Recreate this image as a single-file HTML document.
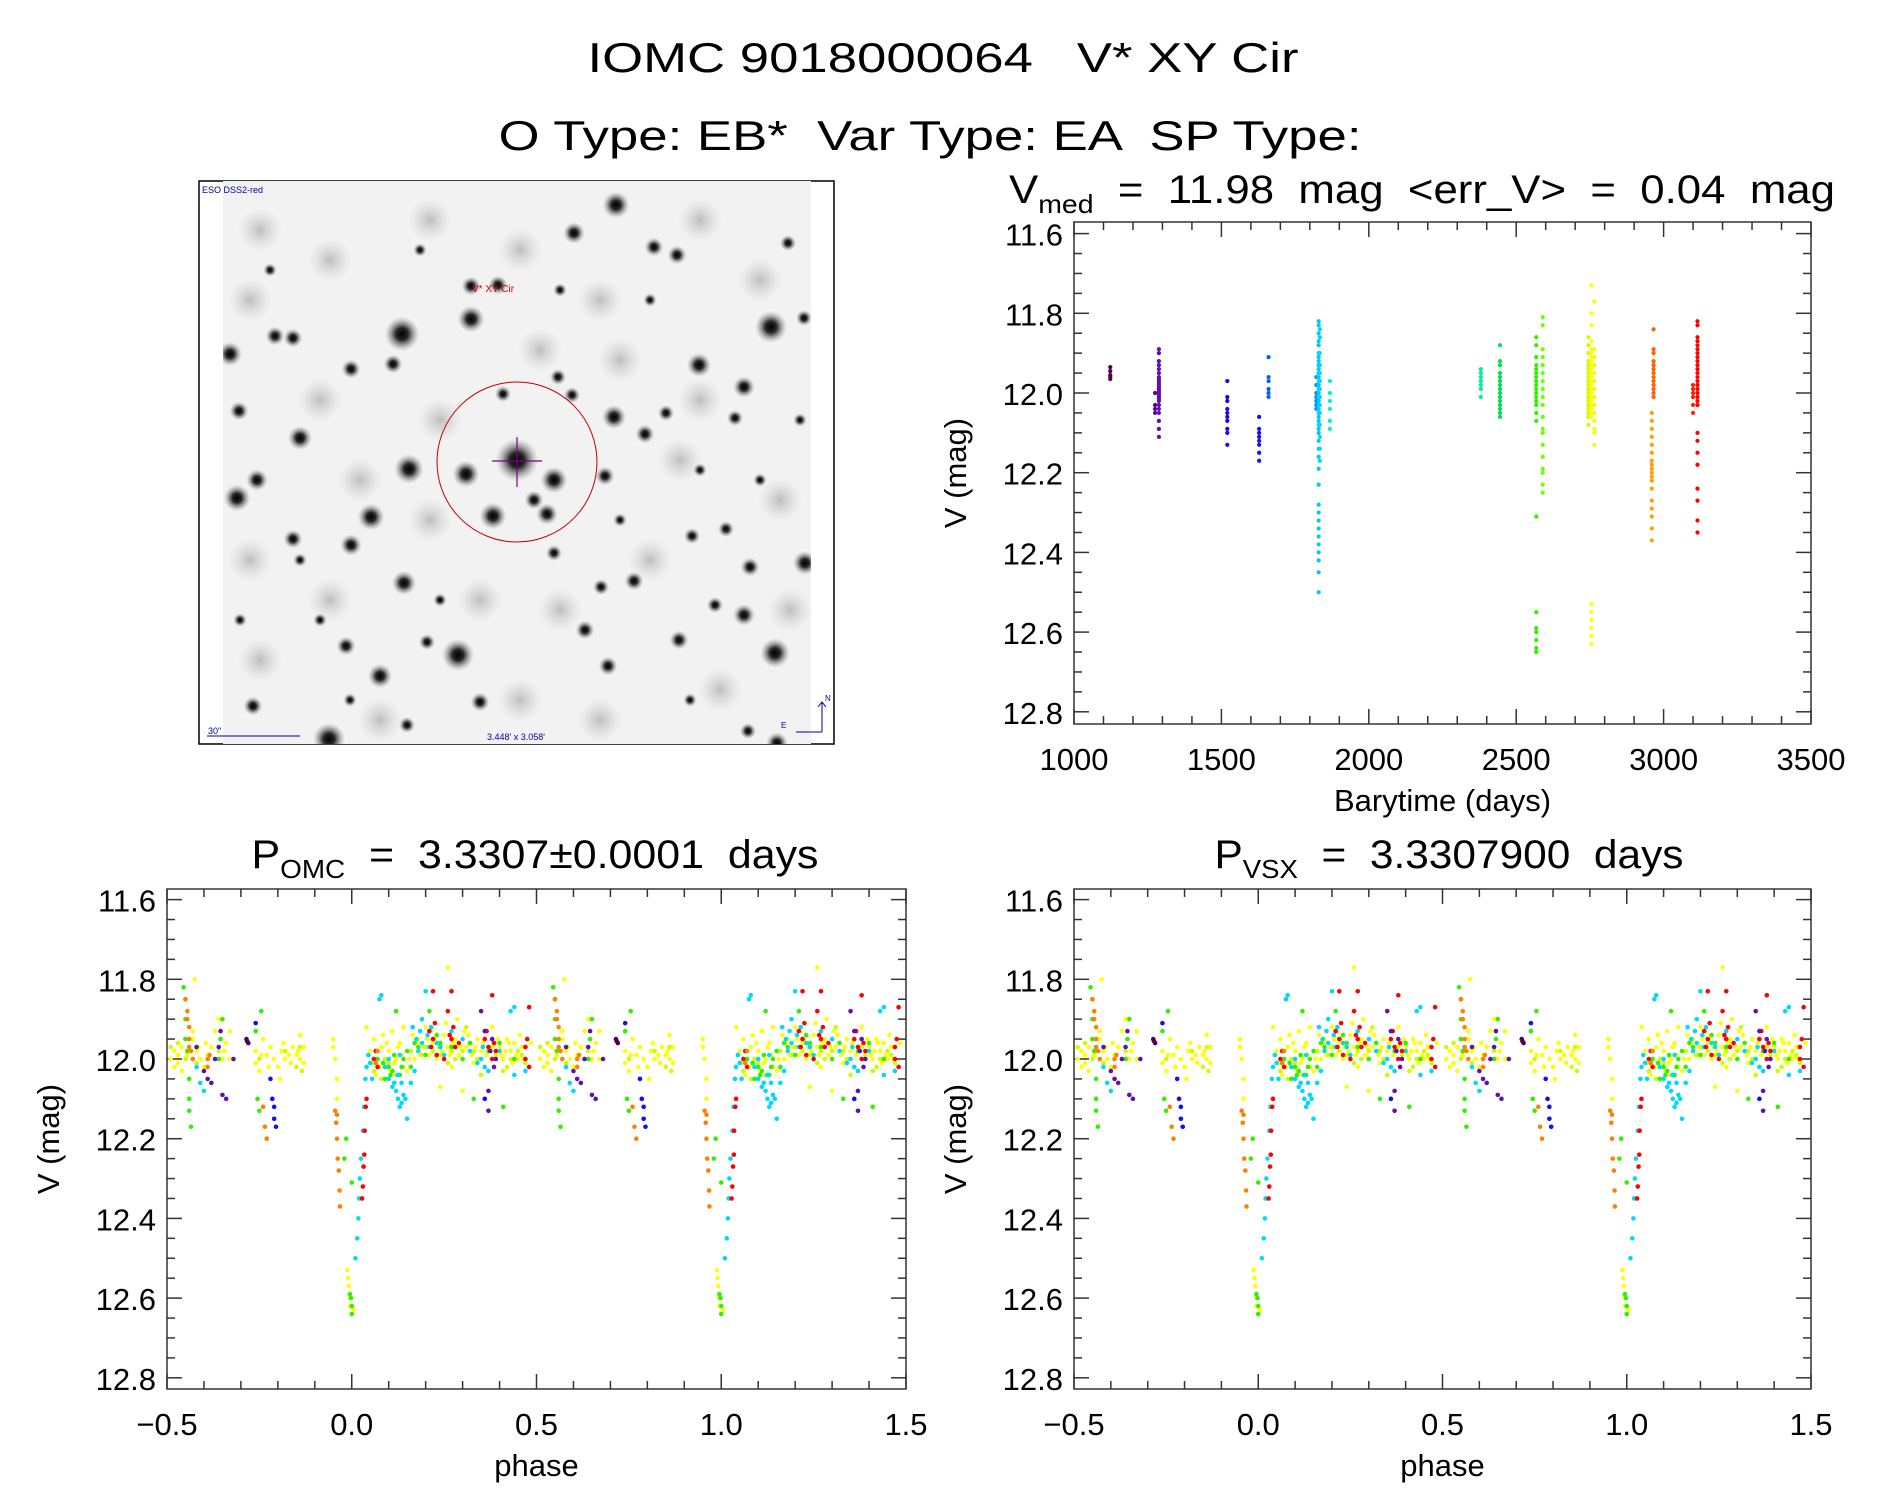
<!DOCTYPE html>
<html><head><meta charset="utf-8">
<style>
html,body{margin:0;padding:0;background:#fff;}
svg{display:block;font-family:"Liberation Sans",sans-serif;}
text{white-space:pre;}
</style></head>
<body>
<svg id="fig" width="1889" height="1494" viewBox="0 0 1889 1494" xmlns="http://www.w3.org/2000/svg">
<defs>
<radialGradient id="star" cx="50%" cy="50%" r="50%">
<stop offset="0" stop-color="#000" stop-opacity="1"/>
<stop offset="0.35" stop-color="#111" stop-opacity="0.9"/>
<stop offset="1" stop-color="#999" stop-opacity="0"/>
</radialGradient>
<radialGradient id="haze" cx="50%" cy="50%" r="50%">
<stop offset="0" stop-color="#888" stop-opacity="0.5"/>
<stop offset="1" stop-color="#bbb" stop-opacity="0"/>
</radialGradient>
<clipPath id="imgclip"><rect x="223" y="181" width="588" height="563"/></clipPath>
</defs>
<rect width="1889" height="1494" fill="#fff"/>
<text x="943" y="72" font-size="42" text-anchor="middle" textLength="711" lengthAdjust="spacingAndGlyphs" xml:space="preserve">IOMC 9018000064   V* XY Cir</text>
<text x="930" y="150" font-size="42" text-anchor="middle" textLength="863" lengthAdjust="spacingAndGlyphs" xml:space="preserve">O Type: EB*  Var Type: EA  SP Type:</text>

<g>
<rect x="199" y="181" width="635" height="563" fill="none" stroke="#000" stroke-width="1.5"/>
<rect x="223" y="181" width="588" height="563" fill="#f2f2f2"/>
<g id="stars" clip-path="url(#imgclip)"></g>
<text x="202" y="193" font-size="9" fill="#0000a0">ESO DSS2-red</text>
<text x="472" y="292" font-size="10" fill="#d00000">V* XY Cir</text>
<ellipse cx="517" cy="462" rx="80" ry="80" fill="none" stroke="#c00000" stroke-width="1"/>
<line x1="492" y1="461" x2="542" y2="461" stroke="#800080" stroke-width="1.2"/>
<line x1="517" y1="437" x2="517" y2="487" stroke="#800080" stroke-width="1.2"/>
<line x1="207" y1="736" x2="300" y2="736" stroke="#0000a0" stroke-width="1"/>
<text x="208" y="734" font-size="9" fill="#0000a0">30"</text>
<text x="516" y="740" font-size="9" fill="#0000a0" text-anchor="middle">3.448' x 3.058'</text>
<path d="M822 732 L822 702 M818 707 L822 702 L826 707 M822 732 L796 732" stroke="#0000a0" fill="none" stroke-width="1"/>
<text x="825" y="701" font-size="8" fill="#0000a0">N</text>
<text x="781" y="728" font-size="8" fill="#0000a0">E</text>
</g>

<g id="plots"></g>
</svg>
<script>
// ---------------- data: light curve (time plot) ----------------
var colT = [1123, 1275, 1288, 1520, 1628, 1660, 1822, 1830, 1834, 1868, 2380, 2445, 2568, 2590, 2745, 2755, 2765, 2960, 2966, 3100, 3115];
var colColor = ['#500050','#600090','#6010b0','#2000f0','#1010f0','#0060ff','#0090ff','#00c8ff','#00d8ff','#00f0d0','#00f090','#00e050','#30f000','#70ff00','#c8ff00','#ffff00','#f0ff00','#ffa000','#ff6000','#ff2000','#ff0000'];
var colMags = [
 [11.935,11.945,11.955,11.96,11.965],
 [12.0,12.03,12.05,12.04],
 [11.89,11.9,11.92,11.93,11.94,11.95,11.96,11.965,11.97,11.975,11.98,11.985,11.99,11.995,12.0,12.005,12.01,12.015,12.02,12.03,12.04,12.05,12.07,12.09,12.11],
 [11.97,12.01,12.02,12.04,12.05,12.06,12.07,12.09,12.1,12.13],
 [12.06,12.09,12.1,12.11,12.12,12.13,12.15,12.17],
 [11.91,11.96,11.97,11.99,12.0,12.01],
 [11.96,11.98,12.0,12.01,12.02,12.03,12.04],
 [11.82,11.83,11.85,11.87,11.88,11.9,11.91,11.92,11.93,11.94,11.95,11.96,11.97,11.98,11.99,12.0,12.01,12.02,12.03,12.04,12.05,12.06,12.07,12.08,12.09,12.1,12.12,12.14,12.16,12.19,12.23,12.28,12.3,12.32,12.34,12.36,12.38,12.4,12.42,12.45,12.5],
 [11.84,11.86,11.9,11.93,11.95,11.97,11.99,12.01,12.03,12.05,12.08,12.11,12.14,12.17],
 [11.97,12.0,12.02,12.04,12.07,12.09],
 [11.94,11.95,11.96,11.97,11.98,11.99,12.01],
 [11.88,11.92,11.93,11.95,11.96,11.97,11.98,11.99,12.0,12.01,12.02,12.03,12.04,12.05,12.06],
 [11.86,11.88,11.91,11.93,11.94,11.95,11.96,11.97,11.98,11.99,12.0,12.01,12.02,12.03,12.05,12.07,12.31,12.55,12.59,12.6,12.62,12.64,12.65],
 [11.81,11.83,11.89,11.91,11.93,11.95,11.97,11.99,12.01,12.03,12.06,12.09,12.1,12.13,12.16,12.19,12.2,12.23,12.25],
 [11.86,11.88,11.9,11.92,11.93,11.94,11.95,11.96,11.97,11.98,11.99,12.0,12.01,12.02,12.03,12.04,12.05,12.06,12.08],
 [11.73,11.8,11.83,11.87,11.89,11.9,11.91,11.92,11.93,11.94,11.95,11.96,11.97,11.98,11.99,12.0,12.01,12.02,12.03,12.04,12.05,12.06,12.53,12.55,12.57,12.59,12.61,12.63],
 [11.77,11.89,11.91,11.93,11.95,11.97,11.99,12.01,12.03,12.05,12.07,12.09,12.1,12.13],
 [12.05,12.07,12.09,12.11,12.13,12.15,12.17,12.18,12.19,12.2,12.21,12.22,12.24,12.27,12.29,12.31,12.34,12.37],
 [11.84,11.89,11.9,11.92,11.93,11.94,11.95,11.96,11.97,11.98,11.99,12.0,12.01],
 [11.98,11.99,12.0,12.01,12.03,12.05],
 [11.82,11.83,11.86,11.87,11.88,11.89,11.9,11.91,11.92,11.93,11.94,11.95,11.96,11.97,11.98,11.99,12.0,12.01,12.02,12.03,12.1,12.12,12.15,12.18,12.24,12.27,12.32,12.35]
];
var timeXTicks = [1000,1500,2000,2500,3000,3500];
var magTicks = [11.6,11.8,12.0,12.2,12.4,12.6,12.8];
var phaseTicks = [-0.5,0.0,0.5,1.0,1.5];
var phaseTickLabels = ['\u22120.5','0.0','0.5','1.0','1.5'];

// ---------------- data: folded light curve (phase, mag) per colour ----------------
var phYellow = [[-0.49,12.0],[-0.48,12.02],[-0.48,11.98],[-0.47,11.99],[-0.47,12.01],[-0.46,11.97],[-0.46,12.03],[-0.43,11.93],[-0.43,11.95],[-0.425,11.8],[-0.42,11.98],[-0.41,12.0],[-0.4,12.02],[-0.39,11.99],[-0.38,11.97],[-0.37,11.93],[-0.36,11.9],[-0.35,12.0],[-0.34,11.96],[-0.33,11.93],[-0.33,12.0],[-0.26,11.98],[-0.26,12.01],[-0.25,12.03],[-0.24,11.95],[-0.23,11.99],[-0.22,11.97],[-0.21,12.0],[-0.2,12.02],[-0.195,12.05],[-0.19,11.98],[-0.18,12.0],[-0.17,11.99],[-0.16,11.97],[-0.15,11.99],[-0.14,11.94],[-0.13,11.97],[-0.13,12.01],[-0.14,12.0],[-0.05,11.95],[-0.05,11.97],[-0.045,12.0],[-0.04,12.05],[-0.04,12.1],[-0.012,12.53],[-0.01,12.55],[-0.008,12.57],[-0.005,12.6],[-0.005,12.62],[0.005,12.63],[0.04,11.92],[0.05,11.98],[0.055,12.01],[0.06,11.95],[0.07,12.0],[0.08,11.97],[0.09,12.02],[0.1,11.98],[0.11,11.93],[0.12,12.0],[0.13,11.96],[0.15,12.03],[0.17,12.0],[0.18,11.95],[0.2,11.92],[0.21,11.99],[0.22,11.96],[0.23,12.0],[0.25,11.94],[0.26,11.97],[0.26,11.77],[0.27,12.02],[0.28,11.95],[0.29,11.99],[0.3,12.0],[0.31,11.97],[0.32,11.96],[0.33,12.01],[0.34,11.95],[0.35,11.98],[0.38,11.92],[0.4,11.97],[0.41,12.0],[0.42,11.95],[0.43,11.98],[0.44,11.96],[0.45,12.0],[0.46,11.97],[0.3,12.08],[0.24,12.07],[0.14,11.92],[0.065,12.04],[0.085,11.94],[0.105,12.03],[0.135,11.99],[0.165,11.94],[0.195,11.97],[0.215,11.93],[0.245,11.98],[0.275,11.96],[0.305,11.93],[0.325,11.99],[0.345,12.0],[0.375,11.97],[0.395,11.95],[0.415,11.98],[0.435,12.01],[0.455,11.94],[0.285,11.9],[0.255,11.91],[0.225,11.95],[0.075,12.02],[0.095,11.96],[0.115,12.01],[0.125,11.97],[0.155,12.0],[0.175,11.96],[0.185,11.99],[0.205,11.95],[0.235,11.97],[0.265,11.99],[0.295,11.97],[0.315,11.94],[0.335,11.97],[0.355,11.96],[0.365,11.99],[0.405,11.99],[0.425,11.96],[0.445,11.99],[0.465,12.0],[0.485,11.96],[-0.445,11.99],[-0.415,11.97],[-0.395,11.96],[-0.345,11.98],[-0.245,11.99],[-0.225,12.02],[-0.185,11.96],[-0.165,12.01],[-0.145,11.98]];
var phYGreen = [[-0.49,11.97],[-0.45,12.0],[-0.36,11.98],[-0.25,12.0],[-0.18,11.98],[0.06,12.03],[0.08,12.05],[0.1,12.01],[0.12,12.04],[0.16,11.98],[0.2,11.97],[0.24,11.99],[0.28,12.0],[0.33,11.98],[0.36,12.02],[0.39,11.99],[0.42,12.02],[0.45,11.98],[0.47,12.01],[0.35,12.04],[0.19,11.99],[0.27,11.98],[0.31,11.92],[0.41,12.03],[-0.15,12.02],[-0.47,11.96],[0.09,12.0],[0.14,12.02],[0.22,11.98],[0.26,12.01],[0.3,11.98],[0.34,12.0],[0.38,11.97],[0.43,12.0],[0.46,11.99],[-0.14,11.97],[-0.135,12.03],[-0.42,12.01]];
var phGreen = [[-0.455,11.82],[-0.45,11.85],[-0.45,11.9],[-0.45,11.95],[-0.445,11.98],[-0.44,12.05],[-0.44,12.1],[-0.44,12.13],[-0.435,12.17],[-0.35,11.9],[-0.355,11.95],[-0.36,12.0],[-0.26,11.93],[-0.255,12.1],[-0.25,12.13],[-0.245,11.88],[-0.02,12.25],[-0.015,12.2],[0.0,12.31],[-0.005,12.59],[0.0,12.64],[0.0,12.62],[-0.002,12.6],[0.09,12.05],[0.11,12.03],[0.14,12.0],[0.18,11.97],[0.21,11.88],[0.24,11.96],[0.3,12.0],[0.33,12.1],[0.41,12.12],[0.44,12.0],[0.16,12.02],[0.07,12.0],[0.12,11.88],[0.1,12.02],[0.13,12.04],[0.085,12.01],[0.105,12.04],[0.115,11.99],[0.135,12.02],[0.15,11.98],[0.17,11.96],[0.2,11.99],[0.23,11.94],[0.27,11.97],[0.32,11.96],[0.37,11.98],[0.4,11.96]];
var phCyan = [[-0.42,12.02],[-0.41,12.06],[-0.4,12.08],[0.01,12.5],[0.015,12.45],[0.018,12.4],[0.02,12.35],[0.022,12.3],[0.025,12.25],[0.03,12.18],[0.033,12.12],[0.037,12.05],[0.04,12.02],[0.045,11.99],[0.05,12.01],[0.055,12.05],[0.075,11.85],[0.08,11.84],[0.09,12.02],[0.1,12.05],[0.11,12.07],[0.12,12.08],[0.125,12.1],[0.13,12.12],[0.135,12.11],[0.14,12.09],[0.15,12.15],[0.16,12.06],[0.17,12.03],[0.18,11.98],[0.19,11.9],[0.2,11.83],[0.22,11.95],[0.24,11.97],[0.27,11.93],[0.3,11.95],[0.32,11.98],[0.35,12.0],[0.36,12.02],[0.4,11.98],[0.43,11.88],[0.44,11.87],[0.44,12.04],[0.1,12.0],[0.13,11.99],[0.165,11.92],[0.19,11.96],[0.21,11.97],[0.145,12.1],[0.47,12.03],[0.115,12.06],[0.125,12.04],[0.135,12.06],[0.175,11.95],[0.185,11.93],[0.205,11.94],[0.215,11.92],[0.23,11.96],[0.25,11.99],[0.34,12.01],[0.355,11.97],[0.37,12.03]];
var phRed = [[0.028,12.35],[0.03,12.32],[0.032,12.27],[0.034,12.24],[0.035,12.18],[0.038,12.12],[0.04,12.1],[0.06,12.0],[0.07,12.02],[0.21,11.93],[0.22,11.95],[0.22,11.83],[0.23,11.99],[0.26,11.88],[0.27,11.83],[0.27,11.95],[0.28,11.97],[0.36,11.95],[0.37,11.97],[0.38,12.0],[0.38,11.84],[0.39,11.98],[0.47,11.97],[0.47,12.0],[0.48,12.02],[0.48,11.87],[0.25,12.0],[0.29,11.96],[0.215,11.97],[0.275,11.92],[0.365,11.93],[0.475,11.95],[0.065,11.98],[0.225,11.91],[0.265,11.94],[0.385,11.96]];
var phOrange = [[-0.45,11.85],[-0.445,11.88],[-0.44,11.92],[-0.44,11.95],[-0.435,11.98],[-0.43,12.0],[-0.39,12.0],[-0.385,11.99],[-0.24,12.12],[-0.235,12.17],[-0.23,12.2],[-0.045,12.13],[-0.042,12.16],[-0.04,12.2],[-0.038,12.25],[-0.035,12.28],[-0.033,12.33],[-0.032,12.37],[-0.04,12.14],[0.07,11.98],[0.065,12.01],[-0.445,11.9],[-0.44,11.97],[-0.39,12.02]];
var phPurple = [[-0.4,12.03],[-0.39,12.05],[-0.38,12.06],[-0.37,12.0],[-0.36,11.97],[-0.355,11.93],[-0.35,12.09],[-0.34,12.1],[-0.32,12.0],[0.35,11.88],[0.36,11.93],[0.37,12.13],[0.37,12.08],[0.38,11.95],[0.39,12.0],[-0.42,11.97],[0.375,11.98],[0.385,12.02]];
var phDark = [[-0.285,11.95],[-0.28,11.96],[-0.283,11.955]];
var phBlue = [[-0.26,11.91],[-0.22,12.05],[-0.215,12.1],[-0.21,12.12],[-0.21,12.15],[-0.205,12.17],[0.36,12.1]];
var phSeries = [phYellow, phYGreen, phGreen, phCyan, phRed, phOrange, phPurple, phDark, phBlue];
var phColors = ['#ffff00','#c8ff00','#30f000','#00d8ff','#ff0000','#ff8000','#6010b0','#500050','#1010f0'];

// ---------------- finder image stars ----------------
var starXY = [[402,334,13],[471,319,10],[771,327,12],[616,205,10],[574,233,8],[699,365,9],[614,417,9],[300,438,9],[409,469,11],[466,474,10],[517,460,16],[554,480,10],[493,516,10],[547,514,8],[534,500,7],[371,517,10],[351,545,8],[230,354,9],[237,498,10],[257,480,8],[458,655,12],[775,653,11],[404,583,9],[744,615,8],[380,676,9],[329,739,12],[805,563,9],[744,387,8],[645,434,7],[605,476,7],[585,630,7],[253,706,7],[654,247,7],[677,255,7],[471,286,7],[498,285,7],[293,338,7],[275,336,7],[351,369,7],[393,364,7],[239,411,7],[634,581,7],[750,567,7],[715,605,6],[679,640,7],[692,536,6],[726,529,6],[346,646,7],[293,539,7],[608,666,7],[480,702,7],[601,587,6],[554,553,6],[503,394,6],[572,395,6],[558,377,6],[788,243,6],[666,413,6],[735,418,6],[804,318,6],[748,731,6],[407,725,6],[427,642,6],[777,743,8],[240,620,5],[300,560,5],[350,700,5],[690,700,5],[650,300,5],[420,250,5],[560,290,5],[700,470,5],[760,480,5],[620,520,5],[440,600,5],[320,620,5],[270,270,5],[800,420,5]];
var hazeXY = [[260,230],[330,260],[430,220],[520,250],[600,300],[700,220],[760,280],[250,300],[320,400],[440,420],[620,360],[680,460],[780,500],[250,560],[330,600],[480,600],[560,610],[650,560],[720,690],[260,660],[380,720],[520,700],[600,720],[790,610],[430,520],[360,480],[700,400],[540,350]];

var NS = 'http://www.w3.org/2000/svg';
function mk(tag, attrs, parent){ var e=document.createElementNS(NS,tag); for(var k in attrs) e.setAttribute(k,attrs[k]); parent.appendChild(e); return e; }

var sg = document.getElementById('stars');
hazeXY.forEach(function(h){
  var c = mk('circle',{cx:h[0],cy:h[1],r:22,fill:'url(#haze)'},sg);
  
  
});
starXY.forEach(function(s){
  var c = mk('circle',{cx:s[0],cy:s[1],r:s[2]*1.35,fill:'url(#star)'},sg);
  
  
});

var root = document.getElementById('plots');

function makePanel(opt){
  var g = mk('g',{},root);
  
  
  var L=opt.L,R=opt.R,T=opt.T,B=opt.B;
  function sx(v){ return L + (v-opt.x0)/(opt.x1-opt.x0)*(R-L); }
  function sy(m){ return opt.y12 + (m-12.0)/0.2*79.7; }
  var tk = mk('g',{stroke:'#333','stroke-width':1.5},g);
  for (var v=opt.x0; v<=opt.x1+1e-9; v+=opt.xminor){
    var x=sx(v); var major = Math.abs(Math.round((v-opt.x0)/opt.xmajor)*opt.xmajor-(v-opt.x0))<1e-6;
    var len = major?15:8;
    mk('line',{x1:x,y1:B,x2:x,y2:B-len},tk);
    mk('line',{x1:x,y1:T,x2:x,y2:T+len},tk);
  }
  for (var m=11.6; m<=12.8+1e-9; m+=0.05){
    var y=sy(m); var major = Math.abs(Math.round(m/0.2)*0.2-m)<1e-6;
    var len = major?15:8;
    mk('line',{x1:L,y1:y,x2:L+len,y2:y},tk);
    mk('line',{x1:R,y1:y,x2:R-len,y2:y},tk);
  }
  mk('rect',{x:L,y:T,width:R-L,height:B-T,fill:'none',stroke:'#333','stroke-width':1.5},g);
  magTicks.forEach(function(m){
    var t=mk('text',{x:L-11,y:sy(m)+12,'font-size':31,'text-anchor':'end'},g);
    
    
    t.textContent=m.toFixed(1);
  });
  opt.xticks.forEach(function(v,i){
    var t=mk('text',{x:sx(v),y:B+46,'font-size':31,'text-anchor':'middle'},g);
    
    
    t.textContent=opt.xlabels[i];
  });
  var yt=mk('text',{x:0,y:0,'font-size':31,'text-anchor':'middle',transform:'translate('+(L-108)+','+((T+B)/2)+') rotate(-90)'},g);
  
  
  yt.textContent='V (mag)';
  var xt=mk('text',{x:(L+R)/2,y:B+87,'font-size':31,'text-anchor':'middle'},g);
  
  
  xt.textContent=opt.xtitle;
  return {g:g,sx:sx,sy:sy};
}

function addTitle(x,y,main,sub,rest,len){
  var t=mk('text',{x:x,y:y,'font-size':40,'text-anchor':'middle',textLength:len,lengthAdjust:'spacingAndGlyphs'},root);
  
  
  var a=mk('tspan',{},t); a.textContent=main;
  var b=mk('tspan',{'font-size':26,dy:10},t); b.textContent=sub;
  var c=mk('tspan',{dy:-10},t); c.textContent=rest;
}

var tp = makePanel({name:'lightcurve-panel',L:1074,R:1811,T:222,B:724,x0:1000,x1:3500,xminor:100,xmajor:500,y12:393,
  xticks:timeXTicks,xlabels:timeXTicks.map(String),xtitle:'Barytime (days)'});
addTitle(1422,203,'V','med','  =  11.98  mag  <err_V>  =  0.04  mag',826);
var tg = mk('g',{},tp.g);


colT.forEach(function(t,i){
  colMags[i].forEach(function(m){
    var c=mk('circle',{cx:tp.sx(t),cy:tp.sy(m),r:2.1,fill:colColor[i]},tg);
    
    
  });
});

function phasePanel(name,L,R,title,sub,rest,len,tx){
  var p = makePanel({name:name,L:L,R:R,T:889,B:1389,x0:-0.5,x1:1.5,xminor:0.1,xmajor:0.5,y12:1059,
    xticks:phaseTicks,xlabels:phaseTickLabels,xtitle:'phase'});
  addTitle(tx,868,title,sub,rest,len);
  var pg = mk('g',{},p.g);
  
  
  phSeries.forEach(function(ser,si){
    [0,1].forEach(function(cyc){
      ser.forEach(function(pt){
        var c=mk('circle',{cx:p.sx(pt[0]+cyc),cy:p.sy(pt[1]),r:2.3,fill:phColors[si]},pg);
        
        
      });
    });
  });
}
phasePanel('phase-omc-panel',167,906,'P','OMC','  =  3.3307\u00b10.0001  days',567,535);
phasePanel('phase-vsx-panel',1074,1811,'P','VSX','  =  3.3307900  days',469,1449);
</script>
</body></html>
